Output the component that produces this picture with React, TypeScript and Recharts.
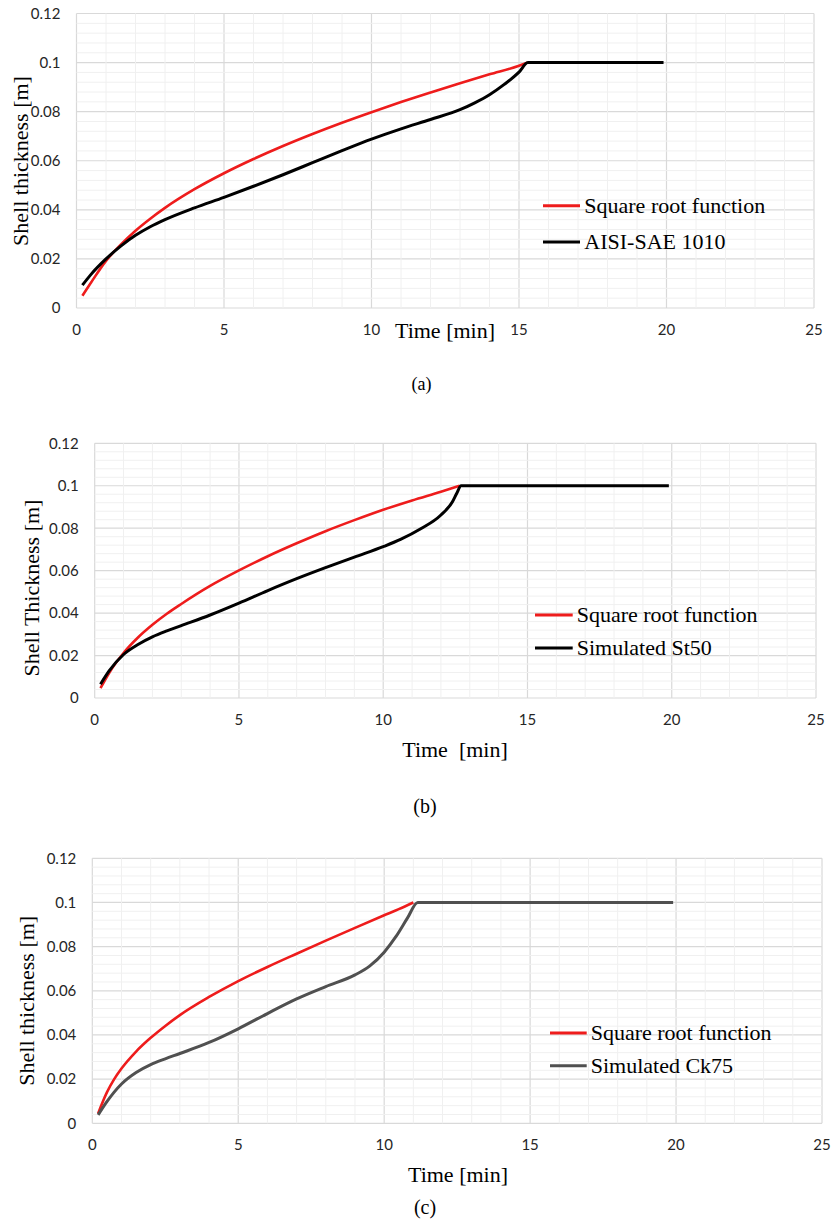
import React from 'react';
import { LineChart, Line, XAxis, YAxis, CartesianGrid, ReferenceLine } from 'recharts';

// ---------- axis ticks ----------
const X_TICKS = [0, 5, 10, 15, 20, 25];
const Y_TICKS = [0, 0.02, 0.04, 0.06, 0.08, 0.1, 0.12];
const X_MINOR = [1, 2, 3, 4, 6, 7, 8, 9, 11, 12, 13, 14, 16, 17, 18, 19, 21, 22, 23, 24];
const Y_MINOR = [
  0.004, 0.008, 0.012, 0.016, 0.024, 0.028, 0.032, 0.036, 0.044, 0.048, 0.052, 0.056,
  0.064, 0.068, 0.072, 0.076, 0.084, 0.088, 0.092, 0.096, 0.104, 0.108, 0.112, 0.116,
];

// ---------- (a) ----------
const A_SQRT_T = [0.2, 0.5, 1, 1.5, 2, 2.5, 3, 4, 5, 6, 7, 8, 9, 10, 11, 12, 13, 14, 15, 15.28];
const A_SQRT_V = [0.005, 0.0105, 0.0192, 0.0258, 0.0315, 0.0364, 0.0408, 0.0484, 0.0549, 0.0607, 0.066, 0.0709, 0.0755, 0.0798, 0.0839, 0.0878, 0.0916, 0.0952, 0.0987, 0.1];
const A_SIM_T = [0.2, 0.5, 1, 1.5, 2, 2.5, 3, 4, 5, 6, 7, 8, 9, 10, 11, 12, 13, 13.5, 14, 14.5, 15, 15.3, 15.5, 19.9];
const A_SIM_V = [0.0093, 0.0138, 0.02, 0.0252, 0.0296, 0.0331, 0.036, 0.0408, 0.0451, 0.0496, 0.0543, 0.0592, 0.0641, 0.0688, 0.073, 0.0768, 0.0808, 0.0836, 0.0869, 0.0911, 0.0961, 0.1, 0.1, 0.1];

// ---------- (b) ----------
const B_SQRT_T = [0.2, 0.5, 1, 1.5, 2, 2.5, 3, 4, 5, 6, 7, 8, 9, 10, 11, 12, 12.65];
const B_SQRT_V = [0.0046, 0.0118, 0.0212, 0.0285, 0.0345, 0.0397, 0.0443, 0.0528, 0.0601, 0.0668, 0.0729, 0.0786, 0.0838, 0.0887, 0.0931, 0.0972, 0.1];
const B_SIM_T = [0.2, 0.5, 1, 1.5, 2, 2.5, 3, 4, 5, 6, 7, 8, 9, 10, 10.6, 11.3, 12, 12.4, 12.55, 12.7, 12.9, 19.9];
const B_SIM_V = [0.0065, 0.0128, 0.0205, 0.0252, 0.0288, 0.0316, 0.0341, 0.0391, 0.0447, 0.0506, 0.0562, 0.0614, 0.0664, 0.0713, 0.0747, 0.0797, 0.0862, 0.0925, 0.0965, 0.1, 0.1, 0.1];

// ---------- (c) ----------
const C_SQRT_T = [0.2, 0.5, 0.75, 1, 1.5, 2, 2.5, 3, 4, 5, 6, 7, 8, 9, 10, 10.5, 11];
const C_SQRT_V = [0.0045, 0.014, 0.02, 0.0248, 0.0325, 0.0387, 0.0441, 0.049, 0.0572, 0.0644, 0.0708, 0.0768, 0.0827, 0.0885, 0.0942, 0.097, 0.1];
const C_SIM_T = [0.2, 0.5, 1, 1.5, 2, 2.5, 3, 4, 5, 6, 7, 8, 9, 9.5, 10, 10.4, 10.8, 11.15, 11.4, 19.9];
const C_SIM_V = [0.0038, 0.0098, 0.0178, 0.023, 0.0266, 0.0292, 0.0316, 0.0366, 0.0428, 0.0497, 0.0563, 0.0619, 0.0672, 0.0712, 0.0775, 0.0845, 0.093, 0.1, 0.1, 0.1];

const zip = (t: number[], v: number[]) => t.map((x, i) => ({ t: x, v: v[i] }));

const RED = '#ee1c1c';
const SERIF = "'Liberation Serif', 'Times New Roman', serif";
const SANS = "Lato, 'Open Sans', sans-serif";

type Series = { name: string; color: string; width: number; data: { t: number; v: number }[] };

type Cfg = {
  top: number;
  height: number;
  margin: { top: number; right: number; left: number; bottom: number };
  series: Series[];
};

const CHARTS: Cfg[] = [
  {
    top: 0,
    height: 340,
    margin: { top: 13.5, right: 19, left: 16.5, bottom: 2 },
    series: [
      { name: 'Square root function', color: RED, width: 2.6, data: zip(A_SQRT_T, A_SQRT_V) },
      { name: 'AISI-SAE 1010', color: '#000000', width: 3, data: zip(A_SIM_T, A_SIM_V) },
    ],
  },
  {
    top: 420,
    height: 310,
    margin: { top: 23.3, right: 17, left: 34.7, bottom: 2 },
    series: [
      { name: 'Square root function', color: RED, width: 2.6, data: zip(B_SQRT_T, B_SQRT_V) },
      { name: 'Simulated St50', color: '#000000', width: 3, data: zip(B_SIM_T, B_SIM_V) },
    ],
  },
  {
    top: 840,
    height: 315,
    margin: { top: 18.3, right: 11, left: 32.3, bottom: 1.7 },
    series: [
      { name: 'Square root function', color: RED, width: 2.6, data: zip(C_SQRT_T, C_SQRT_V) },
      { name: 'Simulated Ck75', color: '#505050', width: 3, data: zip(C_SIM_T, C_SIM_V) },
    ],
  },
];

// text overlay layout
const OVERLAY = [
  { yTitle: 'Shell thickness [m]', yx: 27.7, yy: 161, xTitle: 'Time [min]', xx: 445, xy: 338, cap: '(a)', cx: 421.6, cy: 390, capSize: 18,
    leg: { x1: 543, x2: 580, tx: 584.3, y: [205.7, 242] } },
  { yTitle: 'Shell Thickness [m]', yx: 39, yy: 588, xTitle: 'Time\u00A0 [min]', xx: 455, xy: 756.7, cap: '(b)', cx: 425, cy: 813.3, capSize: 20,
    leg: { x1: 535, x2: 572.7, tx: 576.7, y: [615, 648] } },
  { yTitle: 'Shell thickness [m]', yx: 34.3, yy: 1000.8, xTitle: 'Time [min]', xx: 458, xy: 1181.7, cap: '(c)', cx: 425, cy: 1214.3, capSize: 20,
    leg: { x1: 550, x2: 586.7, tx: 590.7, y: [1033, 1065.7] } },
];

function Chart({ cfg }: { cfg: Cfg }) {
  return (
    <div style={{ position: 'absolute', left: 0, top: cfg.top }}>
      <LineChart width={833} height={cfg.height} margin={cfg.margin}>
        {X_MINOR.map((v) => (
          <ReferenceLine key={'xm' + v} x={v} stroke="#f0f0f0" strokeWidth={1} />
        ))}
        {Y_MINOR.map((v) => (
          <ReferenceLine key={'ym' + v} y={v} stroke="#f0f0f0" strokeWidth={1} />
        ))}
        <CartesianGrid stroke="#d9d9d9" strokeWidth={1.2} />
        <XAxis
          type="number"
          dataKey="t"
          domain={[0, 25]}
          ticks={X_TICKS}
          allowDataOverflow
          axisLine={false}
          tickLine={false}
          tickSize={0}
          tickMargin={16}
          height={30}
          tick={{ fill: '#262626', fontSize: 15, fontFamily: SANS }}
        />
        <YAxis
          type="number"
          domain={[0, 0.12]}
          ticks={Y_TICKS}
          allowDataOverflow
          axisLine={false}
          tickLine={false}
          tickSize={0}
          tickMargin={16}
          width={60}
          tickFormatter={(v: number) => String(v)}
          tick={{ fill: '#262626', fontSize: 15, fontFamily: SANS }}
        />
        {cfg.series.map((s) => (
          <Line
            key={s.name}
            data={s.data}
            dataKey="v"
            name={s.name}
            type="monotone"
            stroke={s.color}
            strokeWidth={s.width}
            dot={false}
            activeDot={false}
            isAnimationActive={false}
          />
        ))}
      </LineChart>
    </div>
  );
}

export default function App() {
  return (
    <div style={{ position: 'absolute', left: 0, top: 0, width: 833, height: 1222, background: '#fff', overflow: 'hidden' }}>
      {CHARTS.map((c, i) => (
        <Chart key={i} cfg={c} />
      ))}
      <svg width={833} height={1222} style={{ position: 'absolute', left: 0, top: 0, pointerEvents: 'none' }}>
        {OVERLAY.map((o, i) => (
          <g key={i} fontFamily={SERIF} fill="#000">
            <text
              x={o.yx}
              y={o.yy}
              fontSize={22}
              textAnchor="middle"
              transform={`rotate(-90 ${o.yx} ${o.yy})`}
            >
              {o.yTitle}
            </text>
            <text x={o.xx} y={o.xy} fontSize={22} textAnchor="middle">
              {o.xTitle}
            </text>
            <text x={o.cx} y={o.cy} fontSize={o.capSize} textAnchor="middle">
              {o.cap}
            </text>
            {CHARTS[i].series.map((s, j) => (
              <g key={s.name}>
                <line x1={o.leg.x1} x2={o.leg.x2} y1={o.leg.y[j]} y2={o.leg.y[j]} stroke={s.color} strokeWidth={3} />
                <text x={o.leg.tx} y={o.leg.y[j] + 7.3} fontSize={22}>
                  {s.name}
                </text>
              </g>
            ))}
          </g>
        ))}
      </svg>
    </div>
  );
}
